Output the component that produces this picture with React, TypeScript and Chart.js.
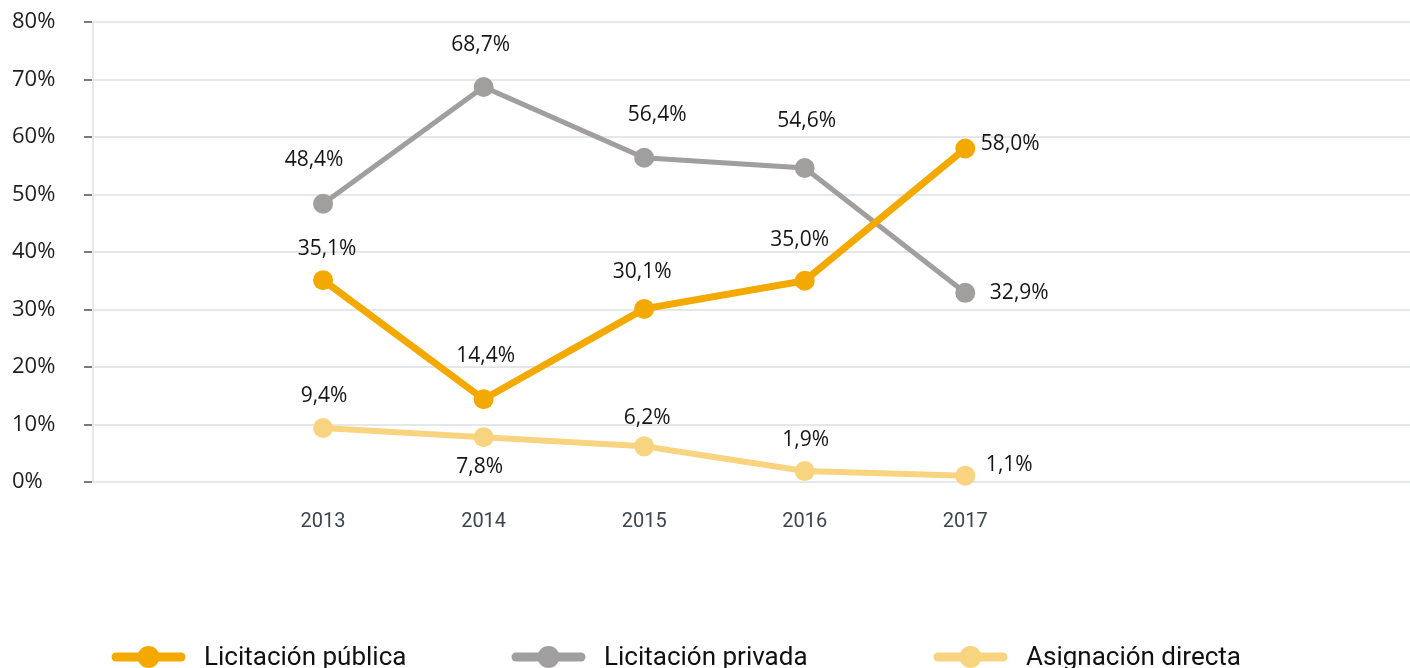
import React, { useEffect, useRef } from 'react';
import { Chart, registerables } from 'chart.js';

Chart.register(...registerables);

const years = [2013, 2014, 2015, 2016, 2017];
const seriesNames = ['Licitación pública', 'Licitación privada', 'Asignación directa'];
const licitacionPublica = [35.1, 14.4, 30.1, 35.0, 58.0];
const licitacionPrivada = [48.4, 68.7, 56.4, 54.6, 32.9];
const asignacionDirecta = [9.4, 7.8, 6.2, 1.9, 1.1];
const yTickValues = [0, 10, 20, 30, 40, 50, 60, 70, 80];

const colors = ['#f4a900', '#a19e9e', '#f8d480'];
const lineWidths = [7, 5, 6];

// label offsets (dx, dy) relative to each point, style only
const labelOffsets = [
  [[4, -31], [2, -43], [-2, -37], [-5, -41], [45, -4]],
  [[-9, -44], [-3, -42], [13, -43], [2, -47], [54, 0]],
  [[1, -32], [-4, 30], [3, -28], [1, -31], [44, -11]],
];

const legendX = [112, 512, 934];

const fmt = (v: number) => v.toFixed(1).replace('.', ',') + '%';

const dataLabelPlugin = {
  id: 'dataLabels',
  afterDatasetsDraw(chart: any) {
    const ctx = chart.ctx;
    ctx.save();
    ctx.font = '21px "Open Sans"';
    ctx.fillStyle = '#151515';
    ctx.textAlign = 'center';
    ctx.textBaseline = 'middle';
    chart.data.datasets.forEach((ds: any, di: number) => {
      const meta = chart.getDatasetMeta(di);
      meta.data.forEach((pt: any, i: number) => {
        const [dx, dy] = labelOffsets[di][i];
        ctx.fillText(fmt(ds.data[i].y), pt.x + dx, pt.y + dy);
      });
    });
    ctx.restore();
  },
};

const legendPlugin = {
  id: 'customLegend',
  afterDraw(chart: any) {
    const ctx = chart.ctx;
    ctx.save();
    const y = 657;
    chart.data.datasets.forEach((ds: any, i: number) => {
      const x = legendX[i];
      ctx.strokeStyle = ds.borderColor;
      ctx.lineWidth = 9;
      ctx.lineCap = 'round';
      ctx.beginPath();
      ctx.moveTo(x + 4, y);
      ctx.lineTo(x + 69, y);
      ctx.stroke();
      ctx.fillStyle = ds.borderColor;
      ctx.beginPath();
      ctx.arc(x + 36.5, y, 11, 0, Math.PI * 2);
      ctx.fill();
      ctx.fillStyle = '#111';
      ctx.font = '26px Roboto';
      ctx.textAlign = 'left';
      ctx.textBaseline = 'alphabetic';
      ctx.fillText(ds.label, x + 92, 665);
    });
    ctx.restore();
  },
};

export default function App() {
  const ref = useRef<HTMLCanvasElement | null>(null);
  useEffect(() => {
    if (!ref.current) return;
    const series = [licitacionPublica, licitacionPrivada, asignacionDirecta];
    const chart = new Chart(ref.current, {
      type: 'line',
      data: {
        datasets: series.map((s, i) => ({
          label: seriesNames[i],
          data: s.map((v, j) => ({ x: years[j], y: v })),
          borderColor: colors[i],
          backgroundColor: colors[i],
          pointBackgroundColor: colors[i],
          pointBorderWidth: 0,
          pointRadius: 10,
          pointHoverRadius: 10,
          borderWidth: lineWidths[i],
          tension: 0,
          fill: false,
          clip: false,
        })),
      },
      options: {
        animation: false,
        responsive: false,
        layout: { autoPadding: false, padding: { left: 12, top: 22, right: 0, bottom: 0 } },
        plugins: { legend: { display: false }, tooltip: { enabled: false } },
        scales: {
          x: {
            type: 'linear',
            min: 2011.567,
            max: 2019.77,
            afterBuildTicks: (scale: any) => {
              scale.ticks = years.map((v) => ({ value: v }));
            },
            afterFit: (scale: any) => {
              scale.height = 186;
              scale.paddingLeft = 0;
              scale.paddingRight = 0;
            },
            grid: { display: false, drawTicks: false },
            border: { display: false },
            ticks: {
              padding: 28,
              color: '#3b4550',
              font: { family: 'Roboto', size: 20 },
              callback: (v: any) => String(v),
              autoSkip: false,
              maxRotation: 0,
            },
          },
          y: {
            min: 0,
            max: 80,
            afterBuildTicks: (scale: any) => {
              scale.ticks = yTickValues.map((v) => ({ value: v }));
            },
            afterFit: (scale: any) => {
              scale.width = 81;
            },
            grid: {
              color: '#e4e8eb',
              lineWidth: 2,
              drawTicks: true,
              tickLength: 9,
              tickColor: '#7a7a7a',
              tickWidth: 2,
            },
            border: { display: true, color: '#e4e8eb', width: 2 },
            ticks: {
              crossAlign: 'far',
              color: '#1e1e1e',
              font: { family: 'Open Sans', size: 22 },
              callback: (v: any) => v + '%',
            },
          },
        },
      },
      plugins: [dataLabelPlugin, legendPlugin],
    } as any);
    return () => chart.destroy();
  }, []);
  return (
    <div style={{ position: 'fixed', left: 0, top: 0, width: 1410, height: 668, background: '#fff' }}>
      <canvas ref={ref} width={1410} height={668} />
    </div>
  );
}
